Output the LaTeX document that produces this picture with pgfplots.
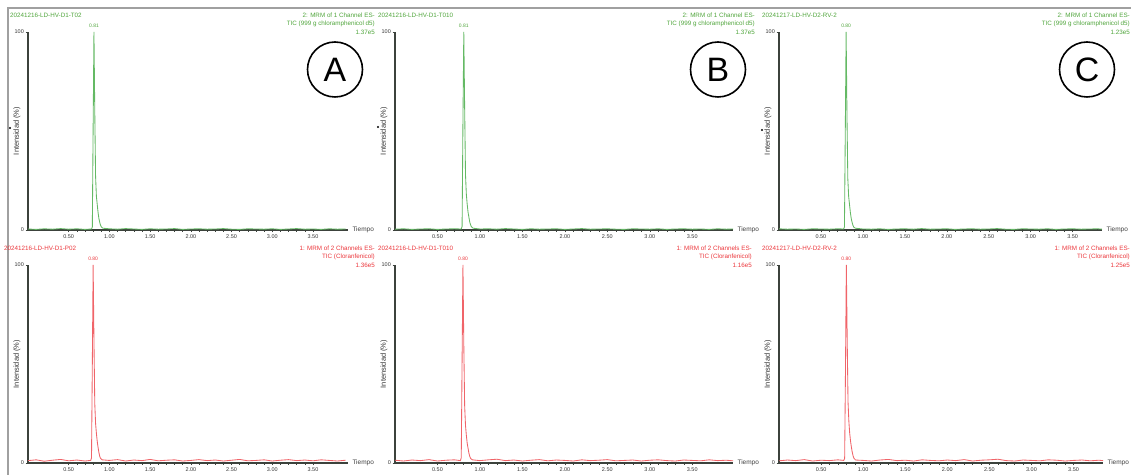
\documentclass[border=0pt]{standalone}
\usepackage{fontspec}
\setmainfont{Liberation Sans}
\usepackage{pgfplots}
\pgfplotsset{compat=1.18}
\usepackage{pgfplotstable}
\definecolor{gline}{RGB}{100,185,100}
\definecolor{gtext}{RGB}{80,165,60}
\definecolor{rline}{RGB}{240,100,105}
\definecolor{rtext}{RGB}{235,55,60}
\definecolor{axcol}{RGB}{60,66,60}
\definecolor{framec}{RGB}{160,160,160}

\pgfplotstableread{
t v
0.00 0.5
0.10 0.3
0.20 0.6
0.30 0.4
0.40 0.7
0.50 0.4
0.60 0.6
0.70 0.3
0.78 0.5
0.79 1.5
0.80 52
0.81 100
0.82 60
0.83 27
0.84 17
0.85 13
0.86 9
0.87 6
0.88 4
0.89 2.5
0.90 1.6
0.92 0.9
1.00 0.6
1.10 0.4
1.20 0.7
1.30 0.5
1.40 0.3
1.50 0.6
1.60 0.4
1.70 0.5
1.80 0.7
1.90 0.3
2.00 0.5
2.10 0.6
2.20 0.4
2.30 0.5
2.40 0.7
2.50 0.4
2.60 0.3
2.70 0.6
2.80 0.5
2.90 0.4
3.00 0.6
3.10 0.3
3.20 0.5
3.30 0.7
3.40 0.4
3.50 0.5
3.60 0.3
3.70 0.6
3.80 0.4
3.90 0.5
}\gA
\pgfplotstableread{
t v
0.00 0.4
0.10 0.6
0.20 0.3
0.30 0.5
0.40 0.6
0.50 0.3
0.60 0.5
0.70 0.6
0.78 0.5
0.79 1.8
0.80 55
0.81 100
0.82 62
0.83 28
0.84 18
0.85 13
0.86 9
0.87 6.5
0.88 4
0.89 2.6
0.90 1.6
0.92 0.9
1.00 0.5
1.10 0.6
1.20 0.4
1.30 0.7
1.40 0.5
1.50 0.3
1.60 0.6
1.70 0.4
1.80 0.5
1.90 0.6
2.00 0.3
2.10 0.5
2.20 0.7
2.30 0.4
2.40 0.5
2.50 0.6
2.60 0.4
2.70 0.3
2.80 0.6
2.90 0.5
3.00 0.4
3.10 0.6
3.20 0.3
3.30 0.5
3.40 0.6
3.50 0.4
3.60 0.5
3.70 0.3
3.80 0.6
3.90 0.4
3.98 0.5
}\gB
\pgfplotstableread{
t v
0.00 0.6
0.10 0.4
0.20 0.5
0.30 0.3
0.40 0.6
0.50 0.5
0.60 0.4
0.70 0.6
0.77 0.5
0.78 1.5
0.79 50
0.80 100
0.81 58
0.82 26
0.83 17
0.84 13
0.85 9
0.86 6
0.87 4
0.88 2.5
0.89 1.5
0.91 0.9
1.00 0.5
1.10 0.4
1.20 0.6
1.30 0.3
1.40 0.5
1.50 0.6
1.60 0.4
1.70 0.7
1.80 0.4
1.90 0.5
2.00 0.6
2.10 0.3
2.20 0.5
2.30 0.6
2.40 0.4
2.50 0.5
2.60 0.7
2.70 0.4
2.80 0.3
2.90 0.6
3.00 0.5
3.10 0.4
3.20 0.6
3.30 0.3
3.40 0.5
3.50 0.6
3.60 0.4
3.70 0.5
3.80 0.6
3.85 0.4
}\gC
\pgfplotstableread{
t v
0.00 1.2
0.10 1.6
0.20 0.9
0.30 1.4
0.40 1.8
0.50 1.1
0.60 1.5
0.70 1.0
0.77 1.3
0.78 2.5
0.79 50
0.80 100
0.81 62
0.82 30
0.83 20
0.84 15
0.85 11
0.86 8
0.87 5.5
0.88 3.5
0.89 2.4
0.91 1.6
1.00 1.3
1.10 1.7
1.20 1.0
1.30 1.5
1.40 1.2
1.50 1.8
1.60 1.1
1.70 1.4
1.80 1.6
1.90 1.0
2.00 1.3
2.10 1.7
2.20 1.2
2.30 1.5
2.40 1.0
2.50 1.4
2.60 1.8
2.70 1.1
2.80 1.3
2.90 1.6
3.00 1.0
3.10 1.4
3.20 1.7
3.30 1.2
3.40 1.5
3.50 1.1
3.60 1.6
3.70 1.3
3.80 1.0
3.90 1.4
}\rA
\pgfplotstableread{
t v
0.00 1.4
0.10 1.0
0.20 1.5
0.30 1.2
0.40 1.7
0.50 1.0
0.60 1.4
0.70 1.6
0.77 1.2
0.78 2.6
0.79 52
0.80 100
0.81 60
0.82 29
0.83 19
0.84 14
0.85 10
0.86 7.5
0.87 5
0.88 3.4
0.89 2.3
0.91 1.6
1.00 1.2
1.10 1.6
1.20 1.9
1.30 1.2
1.40 1.5
1.50 1.0
1.60 1.4
1.70 1.7
1.80 1.1
1.90 1.5
2.00 1.3
2.10 1.0
2.20 1.6
2.30 1.2
2.40 1.4
2.50 1.7
2.60 1.1
2.70 1.3
2.80 1.5
2.90 1.0
3.00 1.4
3.10 1.6
3.20 1.2
3.30 1.0
3.40 1.5
3.50 1.3
3.60 1.1
3.70 1.6
3.80 1.2
3.90 1.4
3.98 1.1
}\rB
\pgfplotstableread{
t v
0.00 1.1
0.10 1.5
0.20 1.2
0.30 1.7
0.40 1.0
0.50 1.4
0.60 1.2
0.70 1.6
0.77 1.3
0.78 2.4
0.79 48
0.80 100
0.81 63
0.82 31
0.83 21
0.84 15
0.85 11
0.86 8
0.87 5.5
0.88 3.6
0.89 2.4
0.91 1.5
1.00 1.3
1.10 1.0
1.20 1.5
1.30 1.8
1.40 1.2
1.50 1.4
1.60 1.0
1.70 1.6
1.80 1.3
1.90 1.1
2.00 1.5
2.10 1.2
2.20 1.7
2.30 1.0
2.40 1.4
2.50 1.6
2.60 1.9
2.70 1.2
2.80 1.0
2.90 1.5
3.00 1.3
3.10 1.1
3.20 1.6
3.30 1.4
3.40 1.0
3.50 1.3
3.60 1.5
3.70 1.1
3.80 1.4
3.85 1.2
}\rC

\pgfplotsset{
  panel/.style={
    scale only axis,
    height=198bp,
    axis lines=left,
    axis line style={-, line width=1.4bp, draw=axcol},
    xmin=0, ymin=0, ymax=100,
    xtick={0.5,1,1.5,2,2.5,3,3.5},
    xticklabels={0.50,1.00,1.50,2.00,2.50,3.00,3.50},
    minor x tick num=4,
    ytick={0,100}, yticklabels={0,100},
    tick style={draw=axcol, line width=0.5bp},
    major tick length=2.5bp, minor tick length=1.6bp,
    tick align=outside,
    xticklabel style={font=\fontsize{5.5}{6}\selectfont, text=black!80, inner sep=1.5bp},
    yticklabel style={font=\fontsize{5.5}{6}\selectfont, text=black!80, inner sep=1.5bp},
    clip=false,
  },
}
\newcommand{\ylab}{\node[rotate=90, font=\fontsize{7.5}{8}\selectfont, text=black!80] at ([xshift=-11bp]axis description cs:0,0.5) {Intensidad (\%)};
  \node[anchor=west, font=\fontsize{6.5}{8}\selectfont, text=black!75] at ([xshift=1bp]axis description cs:1,0) {Tiempo};}
\newcommand{\pk}[3]{\node[anchor=south, font=\fontsize{5}{6}\selectfont, text=#3, inner sep=0pt] at ([yshift=4bp]axis cs:#1,100) {#2};}

\begin{document}
\begin{tikzpicture}[x=1bp,y=1bp]
\path[use as bounding box] (0,0) rectangle (1131,475);
\draw[framec, line width=2bp] (8,0) -- (8,467) -- (1131,467);

% ---------- headers top row ----------
\begin{scope}[font=\fontsize{6.3}{7}\selectfont, text=gtext]
\node[anchor=west, inner sep=0pt] at (10,460) {20241216-LD-HV-D1-T02};
\node[anchor=east, inner sep=0pt] at (375,460) {2: MRM of 1 Channel ES-};
\node[anchor=east, inner sep=0pt] at (375,451) {TIC (999 g chloramphenicol d5)};
\node[anchor=east, inner sep=0pt] at (375,443) {1.37e5};
\node[anchor=west, inner sep=0pt] at (378,460) {20241216-LD-HV-D1-T010};
\node[anchor=east, inner sep=0pt] at (755,460) {2: MRM of 1 Channel ES-};
\node[anchor=east, inner sep=0pt] at (755,451) {TIC (999 g chloramphenicol d5)};
\node[anchor=east, inner sep=0pt] at (755,443) {1.37e5};
\node[anchor=west, inner sep=0pt] at (762,460) {20241217-LD-HV-D2-RV-2};
\node[anchor=east, inner sep=0pt] at (1130,460) {2: MRM of 1 Channel ES-};
\node[anchor=east, inner sep=0pt] at (1130,451) {TIC (999 g chloramphenicol d5)};
\node[anchor=east, inner sep=0pt] at (1130,443) {1.23e5};
\end{scope}
% ---------- headers bottom row ----------
\begin{scope}[font=\fontsize{6.3}{7}\selectfont, text=rtext]
\node[anchor=west, inner sep=0pt] at (4,227) {20241216-LD-HV-D1-P02};
\node[anchor=east, inner sep=0pt] at (375,227) {1: MRM of 2 Channels ES-};
\node[anchor=east, inner sep=0pt] at (375,218) {TIC (Cloranfenicol)};
\node[anchor=east, inner sep=0pt] at (375,210) {1.36e5};
\node[anchor=west, inner sep=0pt] at (378,227) {20241216-LD-HV-D1-T010};
\node[anchor=east, inner sep=0pt] at (752,227) {1: MRM of 2 Channels ES-};
\node[anchor=east, inner sep=0pt] at (752,218) {TIC (Cloranfenicol)};
\node[anchor=east, inner sep=0pt] at (752,210) {1.16e5};
\node[anchor=west, inner sep=0pt] at (762,227) {20241217-LD-HV-D2-RV-2};
\node[anchor=east, inner sep=0pt] at (1130,227) {1: MRM of 2 Channels ES-};
\node[anchor=east, inner sep=0pt] at (1130,218) {TIC (Cloranfenicol)};
\node[anchor=east, inner sep=0pt] at (1130,210) {1.25e5};
\end{scope}

% small dots
\fill[black] (10,347) circle (1.1);
\fill[black] (378,348) circle (1.1);
\fill[black] (762,345) circle (1.1);

% ---------- top row ----------
\begin{axis}[panel, at={(28bp,245bp)}, anchor=south west, width=320bp, xmax=3.93]
\addplot[gline, line width=0.85bp] table {\gA};
\pk{0.81}{0.81}{gtext}
\ylab
\end{axis}
\begin{axis}[panel, at={(395bp,245bp)}, anchor=south west, width=338bp, xmax=3.98]
\addplot[gline, line width=0.85bp] table {\gB};
\pk{0.81}{0.81}{gtext}
\ylab
\end{axis}
\begin{axis}[panel, at={(779bp,245bp)}, anchor=south west, width=323bp, xmax=3.85]
\addplot[gline, line width=0.85bp] table {\gC};
\pk{0.80}{0.80}{gtext}
\ylab
\end{axis}

% ---------- bottom row ----------
\begin{axis}[panel, at={(28bp,12bp)}, anchor=south west, width=320bp, xmax=3.93]
\addplot[rline, line width=0.85bp] table {\rA};
\pk{0.80}{0.80}{rtext}
\ylab
\end{axis}
\begin{axis}[panel, at={(395bp,12bp)}, anchor=south west, width=338bp, xmax=3.98]
\addplot[rline, line width=0.85bp] table {\rB};
\pk{0.80}{0.80}{rtext}
\ylab
\end{axis}
\begin{axis}[panel, at={(779bp,12bp)}, anchor=south west, width=324bp, xmax=3.85]
\addplot[rline, line width=0.85bp] table {\rC};
\pk{0.80}{0.80}{rtext}
\ylab
\end{axis}

% ---------- circled letters ----------
\draw[line width=1.6bp] (335,405.5) circle (27.5);
\node[font=\fontsize{34}{34}\selectfont, inner sep=0pt] at (335,405.5) {A};
\draw[line width=1.6bp] (718,405.5) circle (27.5);
\node[font=\fontsize{34}{34}\selectfont, inner sep=0pt] at (718,405.5) {B};
\draw[line width=1.6bp] (1087,405.5) circle (27.5);
\node[font=\fontsize{34}{34}\selectfont, inner sep=0pt] at (1087,405.5) {C};
\end{tikzpicture}
\end{document}
